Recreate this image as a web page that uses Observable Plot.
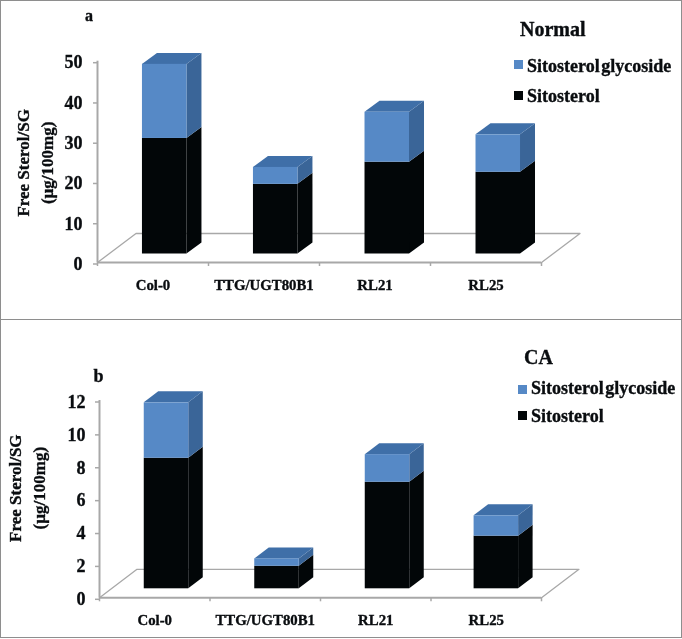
<!DOCTYPE html>
<html><head><meta charset="utf-8">
<script src="https://cdn.jsdelivr.net/npm/d3@7"></script>
<script src="https://cdn.jsdelivr.net/npm/@observablehq/plot@0.6"></script>
<style>
html,body{margin:0;padding:0;background:#fff}
#page{position:relative;width:682px;height:639px;overflow:hidden;font-family:"Liberation Serif",serif;font-weight:bold;color:#0a0d10;filter:blur(.3px)}
#page svg{position:absolute;left:0;background:transparent}
#page svg text{stroke:#0a0d10;stroke-width:.35px}
.frame{position:absolute;border:1.5px solid #8e8e8e;box-sizing:border-box}
.t{position:absolute;white-space:nowrap;line-height:1;-webkit-text-stroke:.35px #0a0d10}
.lg{word-spacing:-3px}
.sw{position:absolute;width:9px;height:9px}
</style></head><body><div id="page"></div>
<script>
const categories = ["Col-0", "TTG/UGT80B1", "RL21", "RL25"];
const normalSitosterol = [28.7, 17.3, 22.8, 20.3];
const normalGlycoside = [18.4, 4.2, 12.4, 9.3];
const normalTicks = [0, 10, 20, 30, 40, 50];
const caSitosterol = [7.94, 1.37, 6.48, 3.2];
const caGlycoside = [3.37, 0.45, 1.68, 1.24];
const caTicks = [0, 2, 4, 6, 8, 10, 12];

const BLACK = "#020608", BLACK_SIDE = "#020608";
const BLUE = "#5689c6", BLUE_TOP = "#3f6fa8", BLUE_SIDE = "#3a6598";
const GRID = "#a8a8a8";
const FONT = "Liberation Serif";

function panel({sito, glyc, ticks, top, height, left, right, yTop, yBottom, baseLift, barStarts, barPx, depthPx, liftPx, floorDx, floorDy, ylabDx, ylabDy, tickPad}) {
  const width = 682;
  const pxX = 4 / (right - left);
  const pxY = ticks[ticks.length - 1] / (yBottom - yTop);
  const base = baseLift * pxY, dX = depthPx * pxX, dY = liftPx * pxY;
  const bars = categories.map((c, i) => {
    const x1 = barStarts[i], x2 = x1 + barPx * pxX;
    return {c, x1, x2, y0: base, y1: base + sito[i], y2: base + sito[i] + glyc[i]};
  });
  const segs = bars.flatMap(b => [
    {...b, lo: b.y0, hi: b.y1, front: BLACK, side: BLACK_SIDE},
    {...b, lo: b.y1, hi: b.y2, front: BLUE, side: BLUE_SIDE}
  ]);
  const sidePts = segs.flatMap((s, k) => [
    {k, x: s.x2, y1: s.lo, y2: s.hi, fill: s.side},
    {k, x: s.x2 + dX, y1: s.lo + dY, y2: s.hi + dY, fill: s.side}
  ]);
  const topPts = bars.flatMap((b, k) => [
    {k, y: b.y2, x1: b.x1, x2: b.x2},
    {k, y: b.y2 + dY, x1: b.x1 + dX, x2: b.x2 + dX}
  ]);
  const fx = floorDx * pxX, fy = floorDy * pxY;
  const floor = [{x: 0, y: 0}, {x: fx, y: fy}, {x: 4 + fx, y: fy}, {x: 4, y: 0}];
  const plot = Plot.plot({
    width, height,
    marginLeft: left, marginRight: width - right,
    marginTop: yTop, marginBottom: height - yBottom,
    style: {background: "transparent", overflow: "visible"},
    x: {domain: [0, 4]},
    y: {domain: [0, ticks[ticks.length - 1]]},
    marks: [
      Plot.line(floor, {x: "x", y: "y", stroke: GRID, strokeWidth: 1.3}),
      Plot.ruleX([0], {stroke: GRID, strokeWidth: 2}),
      Plot.ruleY([0], {stroke: GRID, strokeWidth: 2}),
      Plot.axisY({ticks, tickSize: 4, tickPadding: tickPad, stroke: GRID, strokeWidth: 1.5, fill: "#0a0d10", label: null,
        fontFamily: FONT, fontWeight: "bold", fontSize: 18, dy: 1.5}),
      Plot.axisX({ticks: [0, 1, 2, 3, 4], tickSize: 4, stroke: GRID, strokeWidth: 1.5, tickFormat: () => "", label: null}),
      Plot.axisX({ticks: categories.map((_, i) => i + 0.5), tickFormat: v => categories[Math.floor(v)], tickSize: 0, tickPadding: 17,
        fill: "#0a0d10", label: null, fontFamily: FONT, fontWeight: "bold", fontSize: 14.8}),
      Plot.text(["Free Sterol/SG\n(\u00b5g/100mg)"], {frameAnchor: "left", textAnchor: "middle", rotate: -90, dx: ylabDx, dy: ylabDy,
        lineHeight: 1.4, fontFamily: FONT, fontWeight: "bold", fontSize: 17, fill: "#0a0d10"}),
      Plot.areaY(sidePts, {x: "x", y1: "y1", y2: "y2", z: "k", fill: "fill"}),
      Plot.areaX(topPts, {y: "y", x1: "x1", x2: "x2", z: "k", fill: BLUE_TOP}),
      Plot.rect(segs, {x1: "x1", x2: "x2", y1: "lo", y2: "hi", fill: "front"})
    ]
  });
  plot.style.top = top + "px";
  return plot;
}

const page = document.getElementById("page");
function add(cls, css, text) {
  const d = document.createElement("div");
  d.className = cls; d.style.cssText = css;
  if (text) d.textContent = text;
  page.appendChild(d);
}
add("frame", "left:0;top:0;width:682px;height:320px");
add("frame", "left:0;top:319px;width:682px;height:319px");

page.appendChild(panel({
  sito: normalSitosterol, glyc: normalGlycoside, ticks: normalTicks,
  top: 0, height: 319, left: 97, right: 541, yTop: 60.7, yBottom: 262, baseLift: 8.5,
  barStarts: [0.405, 1.405, 2.41, 3.41], barPx: 44.5, depthPx: 15, liftPx: 11, floorDx: 38.5, floorDy: 29, ylabDx: -64, ylabDy: 1, tickPad: 11
}));
page.appendChild(panel({
  sito: caSitosterol, glyc: caGlycoside, ticks: caTicks,
  top: 320, height: 319, left: 99, right: 541, yTop: 80, yBottom: 277.3, baseLift: 9,
  barStarts: [0.405, 1.405, 2.405, 3.39], barPx: 44.5, depthPx: 14.5, liftPx: 11, floorDx: 37.5, floorDy: 28.5, ylabDx: -74, ylabDy: -11, tickPad: 10
}));

add("t", "left:85px;top:8px;font-size:16px", "a");
add("t", "left:93.5px;top:367px;font-size:18px", "b");
add("t", "left:520px;top:19px;font-size:20px", "Normal");
add("t", "left:524px;top:347px;font-size:20px", "CA");
add("sw", `left:514px;top:60px;background:${BLUE}`);
add("t lg", "left:527px;top:57px;font-size:18px", "Sitosterol glycoside");
add("sw", `left:514px;top:91px;background:${BLACK}`);
add("t lg", "left:527px;top:87px;font-size:18px", "Sitosterol");
add("sw", `left:518px;top:385px;background:${BLUE}`);
add("t lg", "left:531px;top:379px;font-size:18px", "Sitosterol glycoside");
add("sw", `left:518px;top:411px;background:${BLACK}`);
add("t lg", "left:531px;top:406.5px;font-size:18px", "Sitosterol");
</script></body></html>
